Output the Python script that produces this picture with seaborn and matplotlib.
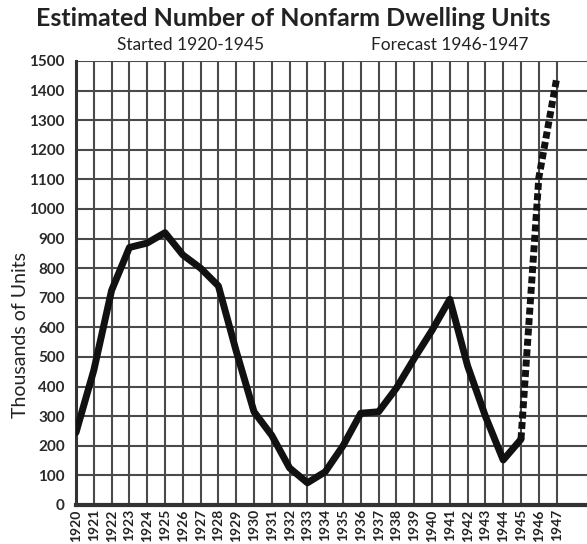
import matplotlib
matplotlib.use("Agg")
import matplotlib.pyplot as plt
import seaborn as sns
import pandas as pd

# Nonfarm dwelling units started (thousands), 1920-1945, and forecast 1946-1947
years_started = list(range(1920, 1946))
units_started = [245, 455, 725, 870, 885, 920, 845, 800, 740, 520, 315, 235,
                 125, 75, 112, 200, 310, 315, 395, 495, 590, 695, 470, 300,
                 152, 222]
years_forecast = [1945, 1946, 1947]
units_forecast = [222, 1105, 1440]

y_ticks = list(range(0, 1501, 100))
x_ticks = list(range(1920, 1948))

title = "Estimated Number of Nonfarm Dwelling Units"
sub_left = "Started 1920-1945"
sub_right = "Forecast 1946-1947"
y_label = "Thousands of Units"

sns.set_theme(style="white")
plt.rcParams["font.family"] = ["Lato", "DejaVu Sans"]

fig = plt.figure(figsize=(5.87, 5.44), dpi=100)
ax = fig.add_axes([76 / 587, 1 - 505 / 544, 1 - 76 / 587, (505 - 61) / 544])

df_s = pd.DataFrame({"year": years_started, "units": units_started})
df_f = pd.DataFrame({"year": years_forecast, "units": units_forecast})

sns.lineplot(data=df_s, x="year", y="units", ax=ax, color="#111111",
             linewidth=5, solid_joinstyle="round", solid_capstyle="round", zorder=5)
sns.lineplot(data=df_f, x="year", y="units", ax=ax, color="#111111",
             linewidth=5, linestyle=(0, (1.0, 0.5)), zorder=5)

ax.set_xlim(1920, 1920 + (587 - 76) / 17.8)
ax.set_ylim(0, 1500)
ax.set_xticks(x_ticks)
ax.set_xticklabels([str(y) for y in x_ticks], rotation=90, fontsize=10,
                   fontweight="bold", color="#222222")
ax.set_yticks(y_ticks)
ax.set_yticklabels([str(v) for v in y_ticks], fontsize=11, fontweight="bold",
                   color="#2a2a2a")
ax.tick_params(axis="y", direction="out", length=8, width=1.4, color="#333333", pad=0)
ax.tick_params(axis="x", length=0, pad=3)

ax.grid(True, color="#4a4a4a", linewidth=1.5)
ax.set_axisbelow(True)
for s in ["top", "right"]:
    ax.spines[s].set_visible(False)
ax.spines["left"].set_linewidth(2.2)
ax.spines["left"].set_color("#333333")
ax.spines["bottom"].set_linewidth(3)
ax.spines["bottom"].set_color("#333333")

ax.set_xlabel("")
ax.set_ylabel("")
fig.text(21 / 587, 1 - 335 / 544, y_label, rotation=90, ha="center", va="center",
         fontsize=14, color="#222222")

fig.text(293 / 587, 1 - 18 / 544, title, ha="center", va="center",
         fontsize=18, fontweight="bold", color="#222222")
fig.text(191 / 587, 1 - 45 / 544, sub_left, ha="center", va="center",
         fontsize=12.5, color="#222222")
fig.text(450 / 587, 1 - 45 / 544, sub_right, ha="center", va="center",
         fontsize=12.5, color="#222222")

fig.savefig("out.png", dpi=100)
